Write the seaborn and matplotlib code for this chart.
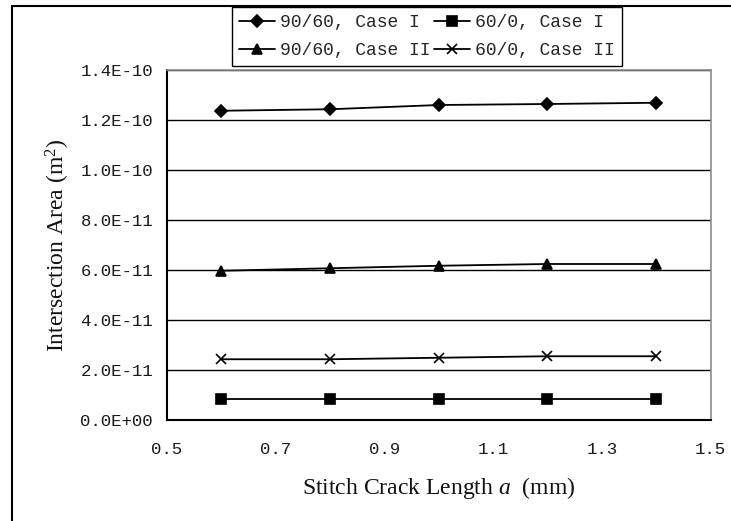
import matplotlib
matplotlib.use("Agg")
import matplotlib.pyplot as plt
import matplotlib.ticker as mticker
from matplotlib.lines import Line2D
import seaborn as sns
import pandas as pd

# ---- data ----
crack_length = [0.6, 0.8, 1.0, 1.2, 1.4]
s_90_60_case1 = [1.237e-10, 1.243e-10, 1.260e-10, 1.264e-10, 1.269e-10]
s_60_0_case1 = [8.3e-12, 8.3e-12, 8.3e-12, 8.3e-12, 8.3e-12]
s_90_60_case2 = [5.97e-11, 6.07e-11, 6.17e-11, 6.24e-11, 6.24e-11]
s_60_0_case2 = [2.43e-11, 2.43e-11, 2.49e-11, 2.55e-11, 2.55e-11]
series_labels = ["90/60, Case I", "60/0, Case I", "90/60, Case II", "60/0, Case II"]
x_ticks = [0.5, 0.7, 0.9, 1.1, 1.3, 1.5]
y_ticks = [0, 2e-11, 4e-11, 6e-11, 8e-11, 1.0e-10, 1.2e-10, 1.4e-10]
x_label = "Stitch Crack Length $a$  (mm)"
y_label = "Intersection Area (m$^2$)"

sns.set_theme(style="white")
plt.rcParams["font.family"] = ["Liberation Mono", "DejaVu Sans Mono"]
plt.rcParams["mathtext.fontset"] = "custom"
plt.rcParams["mathtext.rm"] = "Liberation Serif"
plt.rcParams["mathtext.it"] = "Liberation Serif:italic"

fig = plt.figure(figsize=(7.31, 5.21), dpi=100)
ax = fig.add_axes([167 / 731, 1 - 420 / 521, (710.5 - 167) / 731, (420 - 70) / 521])

series = [s_90_60_case1, s_60_0_case1, s_90_60_case2, s_60_0_case2]
markers = ["D", "s", "^", "x"]
msizes = [6.5, 6.5, 7.5, 6.5]
handles = {}
for vals, lab, mk, ms in zip(series, series_labels, markers, msizes):
    df = pd.DataFrame({"x": crack_length, "y": vals})
    sns.lineplot(data=df, x="x", y="y", ax=ax, color="black", linewidth=1.3,
                 marker=mk, markersize=ms, markeredgecolor="black",
                 markerfacecolor="black", markeredgewidth=1.2, label=lab,
                 legend=False)
    handles[lab] = ax.lines[-1]

ax.set_xlim(0.5, 1.5)
ax.set_ylim(0, 1.4e-10)
ax.set_xticks(x_ticks)
ax.set_yticks(y_ticks)
ax.xaxis.set_major_formatter(mticker.FuncFormatter(lambda v, p: f"{v:.1f}"))
ax.yaxis.set_major_formatter(mticker.FuncFormatter(lambda v, p: f"{v:.1E}"))
ax.tick_params(axis="both", direction="in", length=6, width=1, color="black",
               labelsize=12.5, labelcolor="#1a1a1a")
ax.tick_params(axis="x", pad=16)
ax.tick_params(axis="y", pad=10)
ax.yaxis.grid(True, color="black", linewidth=1.0)
ax.xaxis.grid(False)
ax.set_axisbelow(True)
for side in ["left", "bottom"]:
    ax.spines[side].set_color("black")
    ax.spines[side].set_linewidth(1.5)
for side in ["top", "right"]:
    ax.spines[side].set_color("#8c8c8c")
    ax.spines[side].set_linewidth(1.2)

ax.set_xlabel(x_label, fontsize=17, family="Liberation Serif", labelpad=13, color="#111111")
ax.set_ylabel(y_label, fontsize=17, family="Liberation Serif", color="#111111")
ax.yaxis.set_label_coords(-(167 - 72) / (710.5 - 167), 0.5)

order = ["90/60, Case I", "90/60, Case II", "60/0, Case I", "60/0, Case II"]
leg = fig.legend([handles[k] for k in order], order, ncol=2,
                 loc="upper left", bbox_to_anchor=(232 / 731, 1 - 7 / 521),
                 frameon=True, fancybox=False, framealpha=1, edgecolor="black",
                 fontsize=13, handlelength=2.0, handletextpad=0.25,
                 columnspacing=0.2, borderpad=0.4, labelspacing=0.6,
                 borderaxespad=0)
leg.get_frame().set_linewidth(1.0)

# outer frame (left and top edges visible)
fig.add_artist(Line2D([11.5 / 731, 11.5 / 731], [0, 1 - 5.5 / 521], color="black",
                      linewidth=1.5, transform=fig.transFigure))
fig.add_artist(Line2D([11.5 / 731, 1], [1 - 5.5 / 521, 1 - 5.5 / 521], color="black",
                      linewidth=1.5, transform=fig.transFigure))

fig.savefig("out.png", dpi=100)
